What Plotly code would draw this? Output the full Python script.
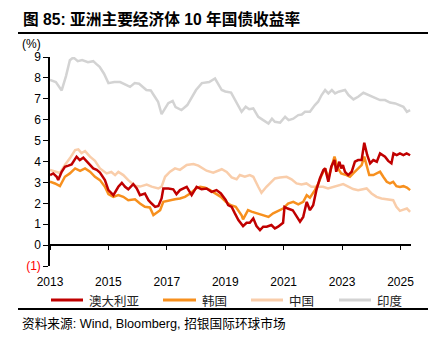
import plotly.graph_objects as go

# 10-year government bond yields (%), x in decimal years
india_x = [2013.0, 2013.2, 2013.4, 2013.55, 2013.68, 2013.8, 2013.95, 2014.1, 2014.3, 2014.48, 2014.6, 2014.7,
           2014.85, 2015.0, 2015.2, 2015.4, 2015.55, 2015.74, 2015.9, 2016.05, 2016.3, 2016.45, 2016.55, 2016.7,
           2016.82, 2016.93, 2017.05, 2017.2, 2017.3, 2017.5, 2017.7, 2018.0, 2018.2, 2018.45, 2018.65, 2018.88,
           2019.0, 2019.2, 2019.39, 2019.56, 2019.7, 2019.82, 2019.96, 2020.13, 2020.3, 2020.48, 2020.6, 2020.7,
           2020.88, 2021.05, 2021.17, 2021.33, 2021.5, 2021.62, 2021.73, 2021.9, 2022.07, 2022.18, 2022.3, 2022.42,
           2022.53, 2022.65, 2022.76, 2022.88, 2023.1, 2023.22, 2023.39, 2023.55, 2023.73, 2023.9, 2024.07, 2024.3,
           2024.47, 2024.64, 2024.82, 2024.98, 2025.1, 2025.22, 2025.33]
india_y = [7.9, 7.8, 7.4, 8.1, 8.85, 8.98, 8.8, 8.85, 8.75, 8.8, 8.65, 8.53,
           8.2, 7.75, 7.8, 7.8, 7.7, 7.57, 7.75, 7.72, 7.42, 7.4, 7.18, 6.86,
           6.27, 6.5, 6.79, 6.9, 6.6, 6.46, 6.7, 7.42, 7.75, 7.8, 7.97, 7.42,
           7.35, 7.3, 6.78, 6.38, 6.62, 6.5, 6.54, 6.14, 5.98, 5.82, 6.05, 5.9,
           5.86, 6.14, 5.98, 6.05, 6.22, 6.25, 6.38, 6.38, 6.7, 6.86, 7.18, 7.42,
           7.26, 7.42, 7.26, 7.34, 7.42, 7.18, 6.97, 7.1, 7.29, 7.18, 7.1, 6.94,
           6.94, 6.82, 6.78, 6.7, 6.62, 6.38, 6.46]

china_x = [2013.0, 2013.22, 2013.34, 2013.51, 2013.68, 2013.86, 2013.97, 2014.08, 2014.2, 2014.37, 2014.54,
           2014.71, 2014.94, 2015.1, 2015.23, 2015.34, 2015.51, 2015.68, 2015.91, 2016.08, 2016.31, 2016.48,
           2016.71, 2016.82, 2016.94, 2017.11, 2017.28, 2017.45, 2017.68, 2017.91, 2018.08, 2018.36, 2018.59,
           2018.88, 2019.05, 2019.22, 2019.39, 2019.5, 2019.67, 2019.84, 2019.96, 2020.13, 2020.24, 2020.41,
           2020.58, 2020.7, 2020.87, 2021.1, 2021.27, 2021.44, 2021.61, 2021.78, 2021.95, 2022.18, 2022.35,
           2022.52, 2022.69, 2022.86, 2023.04, 2023.21, 2023.38, 2023.55, 2023.72, 2023.84, 2024.01, 2024.18,
           2024.35, 2024.52, 2024.75, 2024.86, 2024.98, 2025.1, 2025.22, 2025.33]
china_y = [3.59, 3.5, 3.45, 3.83, 4.15, 4.55, 4.58, 4.4, 4.5, 4.23, 4.03,
           3.67, 3.43, 3.5, 3.35, 3.5, 3.35, 3.11, 2.84, 2.8, 2.9, 2.8,
           2.71, 2.8, 3.27, 3.51, 3.67, 3.6, 3.83, 3.88, 3.8, 3.56, 3.47,
           3.63, 3.5, 3.24, 3.15, 3.35, 3.27, 3.35, 3.27, 2.79, 2.5, 2.79,
           3.03, 3.19, 3.23, 3.27, 3.15, 2.95, 2.9, 2.95, 2.79, 2.79, 2.79,
           2.71, 2.79, 2.87, 2.92, 2.8, 2.68, 2.63, 2.68, 2.71, 2.47, 2.31,
           2.23, 2.19, 2.15, 1.83, 1.64, 1.7, 1.75, 1.59]

korea_x = [2013.0, 2013.17, 2013.34, 2013.51, 2013.68, 2013.86, 2014.03, 2014.2, 2014.37, 2014.54, 2014.71,
           2014.88, 2015.0, 2015.17, 2015.34, 2015.51, 2015.68, 2015.91, 2016.08, 2016.25, 2016.42, 2016.54,
           2016.65, 2016.77, 2016.88, 2017.11, 2017.28, 2017.45, 2017.62, 2017.8, 2018.0, 2018.14, 2018.31,
           2018.48, 2018.65, 2018.85, 2019.02, 2019.19, 2019.36, 2019.45, 2019.56, 2019.61, 2019.78, 2019.9,
           2020.07, 2020.3, 2020.48, 2020.64, 2020.81, 2020.98, 2021.15, 2021.33, 2021.5, 2021.67, 2021.79,
           2021.9, 2022.07, 2022.19, 2022.3, 2022.42, 2022.53, 2022.63, 2022.74, 2022.86, 2022.97, 2023.15,
           2023.27, 2023.38, 2023.55, 2023.67, 2023.76, 2023.84, 2023.93, 2024.07, 2024.18, 2024.3, 2024.41,
           2024.53, 2024.64, 2024.75, 2024.86, 2024.98, 2025.1, 2025.22, 2025.33]
korea_y = [3.03, 2.95, 2.82, 3.27, 3.43, 3.67, 3.55, 3.67, 3.51, 3.27, 3.11,
           2.79, 2.44, 2.31, 2.39, 2.31, 2.15, 2.19, 1.99, 1.83, 1.8, 1.44,
           1.55, 1.67, 2.07, 2.15, 2.19, 2.23, 2.31, 2.47, 2.71, 2.79, 2.75,
           2.63, 2.47, 2.31, 2.07, 1.91, 1.83, 1.64, 1.43, 1.23, 1.67, 1.6,
           1.52, 1.44, 1.35, 1.52, 1.63, 1.75, 1.99, 2.07, 1.95, 2.07, 2.39,
           2.27, 2.63, 2.95, 3.35, 3.67, 3.19, 3.75, 4.23, 3.67, 3.43, 3.35,
           3.27, 3.43, 3.67, 3.83, 4.23, 3.75, 3.35, 3.35, 3.43, 3.51, 3.27,
           3.03, 2.95, 3.03, 2.82, 2.78, 2.82, 2.75, 2.63]

aus_x = [2013.0, 2013.11, 2013.23, 2013.28, 2013.4, 2013.51, 2013.63, 2013.74, 2013.91, 2014.02, 2014.14,
         2014.25, 2014.37, 2014.48, 2014.6, 2014.71, 2014.88, 2015.0, 2015.17, 2015.34, 2015.46, 2015.57,
         2015.68, 2015.85, 2015.97, 2016.08, 2016.25, 2016.37, 2016.48, 2016.6, 2016.71, 2016.82, 2016.88,
         2017.05, 2017.22, 2017.33, 2017.45, 2017.56, 2017.68, 2017.85, 2018.02, 2018.19, 2018.36, 2018.53,
         2018.7, 2018.85, 2019.02, 2019.1, 2019.22, 2019.33, 2019.45, 2019.61, 2019.73, 2019.84, 2019.96,
         2020.07, 2020.19, 2020.3, 2020.42, 2020.58, 2020.7, 2020.81, 2020.98, 2021.03, 2021.14, 2021.31,
         2021.42, 2021.56, 2021.67, 2021.79, 2021.9, 2022.01, 2022.12, 2022.24, 2022.36, 2022.42, 2022.53,
         2022.63, 2022.74, 2022.8, 2022.91, 2022.97, 2023.03, 2023.1, 2023.21, 2023.33, 2023.44, 2023.55,
         2023.67, 2023.76, 2023.86, 2023.96, 2024.07, 2024.19, 2024.3, 2024.47, 2024.58, 2024.69, 2024.76,
         2024.87, 2024.98, 2025.1, 2025.21, 2025.33]
aus_y = [3.35, 3.43, 3.27, 3.11, 3.51, 3.75, 3.8, 3.86, 4.23, 4.07, 4.18,
         4.0, 3.83, 3.67, 3.6, 3.47, 3.11, 2.63, 2.39, 2.79, 2.98, 2.79,
         2.67, 2.92, 2.71, 2.39, 2.47, 2.15, 1.99, 1.83, 1.87, 2.23, 2.71,
         2.71, 2.67, 2.44, 2.63, 2.71, 2.79, 2.39, 2.79, 2.67, 2.71, 2.55,
         2.63, 2.47, 2.15, 1.91, 1.83, 1.52, 1.2, 0.91, 1.07, 1.07, 1.28,
         0.91, 0.72, 0.88, 0.88, 0.96, 0.8, 0.88, 1.07, 1.83, 1.75, 1.67,
         1.43, 1.12, 1.35, 2.07, 1.67, 1.91, 2.63, 3.19, 3.59, 3.67, 3.03,
         3.75, 4.07, 3.51, 3.99, 3.67, 3.83, 3.51, 3.35, 3.51, 3.99, 4.07,
         4.07, 4.9, 4.31, 3.91, 4.07, 3.99, 4.39, 4.23, 4.03, 3.91, 4.39,
         4.31, 4.39, 4.31, 4.39, 4.3]

series = [
    ("印度", india_x, india_y, "#D3D3D3"),
    ("中国", china_x, china_y, "#F9CDAA"),
    ("韩国", korea_x, korea_y, "#F7901E"),
    ("澳大利亚", aus_x, aus_y, "#C00000"),
]

year_ticks = [2013, 2015, 2017, 2019, 2021, 2023, 2025]
y_ticks = [-1, 0, 1, 2, 3, 4, 5, 6, 7, 8, 9]
y_ticktext = ["<span style='color:#FF0000'>(1)</span>"] + [str(v) for v in y_ticks[1:]]

W, H = 436, 344
L, R, T, B = 50, 25, 57, 78
PW, PH = W - L - R, H - T - B


def px(x):
    return (x - L) / PW


def py(y):
    return (H - B - y) / PH


LATIN_CJK = "Liberation Sans, Arial, Noto Sans CJK SC"

fig = go.Figure()
for name, xs, ys, color in series:
    fig.add_trace(go.Scatter(x=xs, y=ys, mode="lines", name=name,
                             line=dict(color=color, width=2.5), showlegend=False))

shapes = [
    dict(type="line", xref="paper", yref="paper", x0=px(18), x1=px(428), y0=py(33), y1=py(33),
         line=dict(color="black", width=2)),
    dict(type="line", xref="paper", yref="paper", x0=px(18), x1=px(428), y0=py(309), y1=py(309),
         line=dict(color="black", width=2)),
]
annotations = [
    dict(text="<b>图 85: 亚洲主要经济体 10 年国债收益率</b>", xref="paper", yref="paper",
         x=px(21), y=py(19), xanchor="left", yanchor="middle", showarrow=False,
         font=dict(family=LATIN_CJK, size=15.7, color="black")),
    dict(text="(%)", xref="paper", yref="paper", x=px(31), y=py(44), xanchor="center", yanchor="middle",
         showarrow=False, font=dict(family=LATIN_CJK, size=12, color="black")),
    dict(text="资料来源: Wind, Bloomberg, 招银国际环球市场", xref="paper", yref="paper",
         x=px(20), y=py(323), xanchor="left", yanchor="middle", showarrow=False,
         font=dict(family=LATIN_CJK, size=12.7, color="black")),
]

# legend row drawn below the axis
legend_pos = {"澳大利亚": (51, 83), "韩国": (163, 196), "中国": (251, 283), "印度": (339, 371)}
for name, xs, ys, color in series:
    x0, x1 = legend_pos[name]
    shapes.append(dict(type="line", xref="paper", yref="paper", x0=px(x0), x1=px(x1),
                       y0=py(300), y1=py(300), line=dict(color=color, width=3)))
    annotations.append(dict(text=name, xref="paper", yref="paper", x=px(x1 + 4), y=py(300),
                            xanchor="left", yanchor="middle", showarrow=False,
                            font=dict(family="Noto Sans CJK SC", size=12.5, color="#222222")))

fig.update_layout(
    width=W, height=H,
    margin=dict(l=L, r=R, t=T, b=B),
    paper_bgcolor="white", plot_bgcolor="white",
    shapes=shapes, annotations=annotations,
    xaxis=dict(range=[2013, 2025.36], tickvals=year_ticks, ticktext=[str(v) for v in year_ticks],
               showgrid=False, zeroline=False, showline=True, linecolor="black", linewidth=1.5,
               ticks="outside", ticklen=4, tickcolor="black", anchor="free", position=0.1,
               ticklabelstandoff=22, tickfont=dict(family=LATIN_CJK, size=12, color="black")),
    yaxis=dict(range=[-1, 9], tickvals=y_ticks, ticktext=y_ticktext, showgrid=False, zeroline=False,
               showline=True, linecolor="black", linewidth=1.5, ticks="outside", ticklen=5,
               tickcolor="black", tickfont=dict(family=LATIN_CJK, size=12, color="black")),
)

fig.write_html("out.html")
